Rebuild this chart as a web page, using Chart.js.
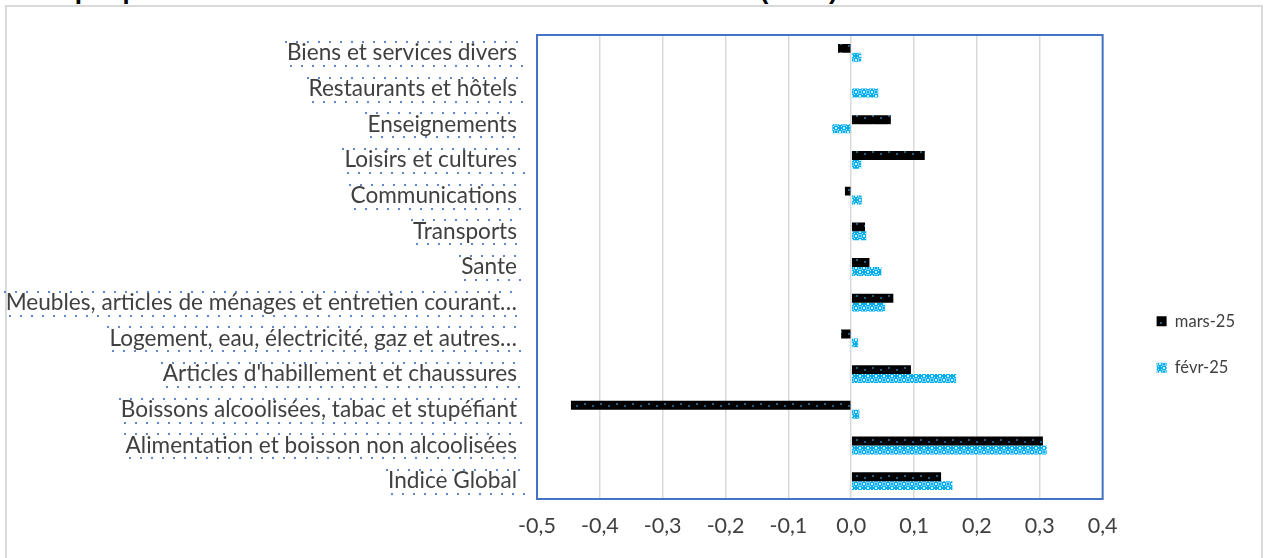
<!DOCTYPE html>
<html>
<head>
<meta charset="utf-8">
<script src="https://cdn.jsdelivr.net/npm/chart.js@4.4.1/dist/chart.umd.min.js"></script>
<style>
  html, body { margin: 0; padding: 0; background: #fff; }
  #wrap { position: relative; width: 1264px; height: 558px; overflow: hidden; }
  #frame { position: absolute; left: 5px; top: 5px; width: 1254px; height: 600px; border: 2px solid #d9d9d9; }
  #title { position: absolute; left: 30px; top: -23px; font: bold 26px "Liberation Sans", Arial, sans-serif; line-height: 26px; color: #000; white-space: nowrap; }
  canvas { position: absolute; left: 0; top: 0; }
</style>
</head>
<body>
<div id="wrap">
  <div id="frame"></div>
  <div id="title">Graphique : Variation mensuelle des indices des fonctions (en %)</div>
  <canvas id="c" width="1264" height="558"></canvas>
</div>
<script>
// ---- data (top to bottom) ----
const categories = [
  "Biens et services divers",
  "Restaurants et hôtels",
  "Enseignements",
  "Loisirs et cultures",
  "Communications",
  "Transports",
  "Sante",
  "Meubles, articles de ménages et entretien courant…",
  "Logement, eau, électricité, gaz et autres…",
  "Articles d'habillement et chaussures",
  "Boissons alcoolisées, tabac et stupéfiant",
  "Alimentation et boisson non alcoolisées",
  "Indice Global"
];
const seriesNames = ["mars-25", "févr-25"];
const mars25 = [-0.021, 0, 0.063, 0.117, -0.010, 0.022, 0.029, 0.067, -0.016, 0.095, -0.446, 0.305, 0.143];
const fevr25 = [0.016, 0.043, -0.030, 0.016, 0.017, 0.024, 0.048, 0.054, 0.011, 0.167, 0.013, 0.311, 0.161];
const xTicks = [-0.5, -0.4, -0.3, -0.2, -0.1, 0.0, 0.1, 0.2, 0.3, 0.4];

// ---- patterns ----
function blackPattern() {
  const p = document.createElement('canvas'); p.width = 16; p.height = 9;
  const g = p.getContext('2d');
  g.fillStyle = '#000'; g.fillRect(0, 0, 16, 9);
  g.fillStyle = '#1b5f86'; g.fillRect(0, 0, 2, 2); g.fillRect(8, 7, 2, 2);
  return g.createPattern(p, 'repeat');
}
function bluePattern() {
  const p = document.createElement('canvas'); p.width = 8; p.height = 8;
  const g = p.getContext('2d');
  g.fillStyle = '#00aeef'; g.fillRect(0, 0, 8, 8);
  g.fillStyle = 'rgba(255,255,255,0.85)';
  g.fillRect(3, 0, 2, 1); g.fillRect(3, 7, 2, 1); g.fillRect(0, 3, 1, 2); g.fillRect(7, 3, 1, 2);
  g.fillRect(1, 1, 1, 1); g.fillRect(6, 1, 1, 1); g.fillRect(1, 6, 1, 1); g.fillRect(6, 6, 1, 1);
  g.fillStyle = 'rgba(255,255,255,0.45)';
  g.fillRect(2, 2, 4, 4);
  g.fillStyle = '#00aeef'; g.fillRect(3, 3, 2, 2);
  return g.createPattern(p, 'repeat');
}

const labelFont = { family: "Lato, 'Open Sans', sans-serif", size: 22.6 };
const AREA = { left: 537, right: 1103, top: 35, bottom: 499 };

const framePlugin = {
  id: 'framePlugin',
  afterLayout(chart) {
    const lg = chart.legend;
    if (lg) {
      const dx = 24, dy = 48;
      lg.left += dx; lg.right += dx; lg.top += dy; lg.bottom += dy;
    }
  },
  afterDatasetsDraw(chart) {
    const { ctx, chartArea: a } = chart;
    ctx.save();
    ctx.strokeStyle = '#4472c4';
    ctx.lineWidth = 2;
    ctx.strokeRect(a.left, a.top, a.right - a.left, a.bottom - a.top);
    ctx.restore();
  },
  afterDraw(chart) {
    // dotted guide marks around category labels
    const { ctx } = chart;
    const ys = chart.scales.y;
    ctx.save();
    ctx.font = labelFont.size + 'px ' + labelFont.family;
    ctx.fillStyle = 'rgba(68,114,196,0.85)';
    categories.forEach((lab, i) => {
      const y = ys.getPixelForTick(i);
      const w = ctx.measureText(lab).width;
      const x1 = AREA.left - 20 - w - 2, x2 = AREA.left - 20 + 2;
      for (let x = x1; x <= x2; x += 11) {
        ctx.fillRect(Math.round(x), Math.round(y - 12), 2, 2);
        ctx.fillRect(Math.round(x + 5), Math.round(y + 12), 2, 2);
      }
    });
    ctx.restore();
  }
};

new Chart(document.getElementById('c'), {
  type: 'bar',
  data: {
    labels: categories,
    datasets: [
      { label: seriesNames[0], data: mars25, backgroundColor: blackPattern(), borderWidth: 0 },
      { label: seriesNames[1], data: fevr25, backgroundColor: bluePattern(), borderWidth: 0 }
    ]
  },
  plugins: [framePlugin],
  options: {
    indexAxis: 'y',
    responsive: false,
    animation: false,
    devicePixelRatio: 1,
    layout: { padding: { top: AREA.top, right: 43, bottom: 0, left: 0 } },
    datasets: { bar: { categoryPercentage: 0.5, barPercentage: 1.0 } },
    scales: {
      x: {
        min: xTicks[0], max: xTicks[xTicks.length - 1],
        afterBuildTicks(scale) { scale.ticks = xTicks.map(v => ({ value: v })); },
        afterFit(scale) { scale.height = 558 - AREA.bottom; },
        grid: { color: '#d9d9d9', lineWidth: 1.5, drawTicks: false },
        border: { display: false },
        ticks: {
          padding: 14,
          color: '#404040',
          font: { family: "Lato, 'Open Sans', sans-serif", size: 21.5 },
          callback: (v) => { const s = Number(v).toFixed(1).replace('.', ','); return s === '-0,0' ? '0,0' : s; }
        }
      },
      y: {
        afterFit(scale) { scale.width = AREA.left; },
        grid: { display: false, drawTicks: false },
        border: { display: false },
        ticks: { padding: 20, color: '#404040', font: labelFont, autoSkip: false }
      }
    },
    plugins: {
      legend: {
        position: 'right',
        labels: {
          boxWidth: 10, boxHeight: 10, padding: 30,
          color: '#404040',
          font: { family: "Lato, 'Open Sans', sans-serif", size: 16.5 }
        }
      },
      tooltip: { enabled: false }
    }
  }
});
</script>
</body>
</html>
